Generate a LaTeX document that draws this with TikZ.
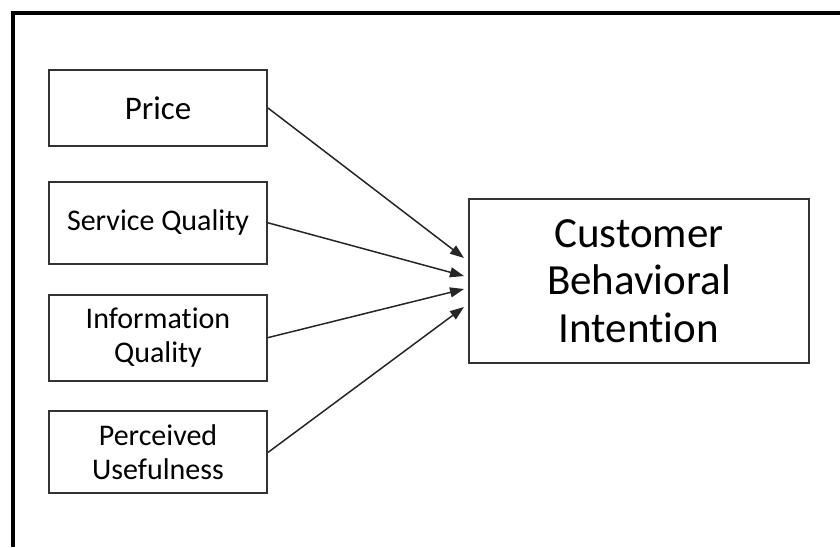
\documentclass[tikz,border=0pt]{standalone}
\usepackage{fontspec}
\setmainfont{Carlito}[Ligatures=NoCommon]
\usepackage{xcolor}
\usetikzlibrary{arrows.meta}
\tikzstyle{factor box}=[
        draw = black!80,
        line width = 1pt,
        fill = white,
        minimum width = 109pt,
        minimum height = 41pt,
        align = center,
        font = \fontsize{15}{17}\selectfont
    ]
\tikzstyle{outcome box}=[
    draw = black!80,
    line width = 1pt,
    fill = white,
    minimum width = 170pt,
    minimum height = 82pt,
    align = center,
    font = \fontsize{21.5}{23.75}\selectfont
]

\begin{document}
\begin{tikzpicture}[x=0.5pt, y=-0.5pt, node distance={57.4pt}, link/.style = {-{Triangle[length=7pt,width=5pt]}, line width=0.75pt, black!85}]
        \useasboundingbox (0,0) rectangle (840,547);
        \draw[line width=2pt] (13,547) |- (840,13);

        \node[factor box, minimum height=38pt, font=\fontsize{16.5}{18}\selectfont] (price) at (158,108) {Price};
        \node[factor box] (service) [below of = price] {Service Quality};
        \node[factor box, minimum height=43pt] (info) [below of = service] {Information\\Quality};
        \node[factor box] (useful) [below of = info] {Perceived\\Usefulness};
        \node[outcome box] (intent) at (639,281) {Customer\\Behavioral\\Intention};

        \draw[link] (price.east) -- ([xshift=-2pt, yshift=11.5pt]intent.west);
        \draw[link] (service.east) -- ([xshift=-2pt, yshift=2.5pt]intent.west);
        \draw[link] (info.east) -- ([xshift=-2pt, yshift=-4pt]intent.west);
        \draw[link] (useful.east) -- ([xshift=-2pt, yshift=-13pt]intent.west);

    \end{tikzpicture}
\end{document}
